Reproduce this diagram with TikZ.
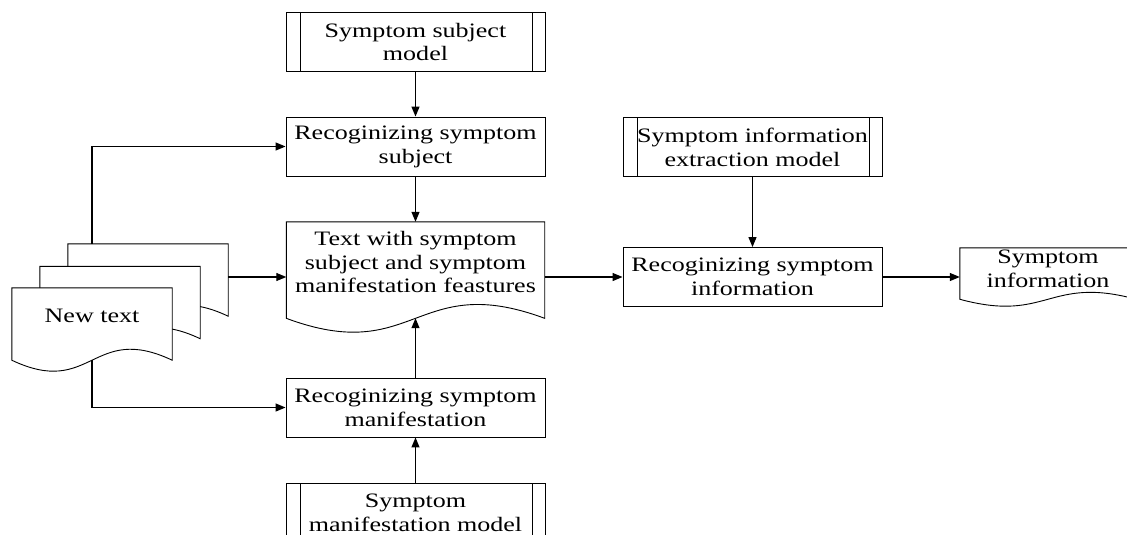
\documentclass[tikz,border=0pt]{standalone}
\usepackage{fontspec}
\setmainfont[FakeStretch=1.27]{Liberation Serif}
\usetikzlibrary{arrows.meta,backgrounds}

\tikzset{
    stepbox/.style={draw, align=center, minimum width=259, minimum height=59, inner sep=0pt, line width=0.9pt},
    modelbox/.style={stepbox, path picture={
        \draw[line width=0.9pt] ([xshift=14pt]path picture bounding box.north west) -- ([xshift=14pt]path picture bounding box.south west);
        \draw[line width=0.9pt] ([xshift=-13pt]path picture bounding box.north east) -- ([xshift=-13pt]path picture bounding box.south east);}},
    docbox/.style={align=center, inner sep=0pt},
    flow/.style={draw, line width=1.2pt, -{Triangle[length=10pt,width=8pt]}}
}
% outline of a document shape round a node, #2 = height of its wave
\newcommand{\docline}[2]{
    \draw[fill=white, line width=0.9pt] (#1.north west) -- (#1.north east) -- ([yshift=0.289*#2]#1.south east)
        .. controls ([yshift=1.289*#2]#1.south) and ([yshift=-0.711*#2]#1.south) .. ([yshift=0.289*#2]#1.south west) -- cycle;
}

\begin{document}
\begin{tikzpicture}[x=1pt, y=-1pt, font=\fontsize{20.5}{23.8}\selectfont]
        \useasboundingbox (0,0) rectangle (1127,535);

        \node[modelbox] (subjmodel) at (415.5,42) {Symptom subject\\model};
        \node[stepbox] (recsubj) at (415.5,146.5) {Recoginizing symptom\\subject};
        \node[docbox, minimum width=258, minimum height=110, text depth=30pt] (textdoc) at (415.5,277) {Text with symptom\\subject and symptom\\manifestation feastures};
        \node[stepbox] (recman) at (415.5,407.5) {Recoginizing symptom\\manifestation};
        \node[modelbox] (manmodel) at (415.5,512.5) {Symptom\\manifestation model};

        \node[modelbox] (extmodel) at (752.5,147) {Symptom information\\extraction model};
        \node[stepbox] (recinfo) at (752.5,277) {Recoginizing symptom\\information};
        \node[docbox, minimum width=176, minimum height=58, text depth=16pt] (syminfo) at (1048,277) {Symptom\\information};

        % new text, three sheets
        \node[docbox, minimum width=160, minimum height=83] (newtextc) at (148,285.5) {};
        \node[docbox, minimum width=160, minimum height=83] (newtextb) at (120,308) {};
        \node[docbox, minimum width=160, minimum height=83, text depth=27pt] (newtext) at (92,329.5) {New text};

        \begin{scope}[on background layer]
            \docline{newtextc}{38}
            \docline{newtextb}{38}
            \docline{newtext}{38}
            \docline{textdoc}{48}
            \docline{syminfo}{24}
        \end{scope}

        \path[flow] (subjmodel) -- (recsubj);
        \path[flow] (recsubj) -- (textdoc);
        \path[flow] (manmodel) -- (recman);
        \path[flow] (recman) -- ([yshift=14pt]textdoc.south);
        \path[flow] (textdoc) -- (recinfo);
        \path[flow] (extmodel) -- (recinfo);
        \path[flow] (recinfo) -- (syminfo);
        \path[flow] (newtext.center |- newtextc.north) |- (recsubj);
        \path[flow] (newtextc.east |- textdoc.west) -- (textdoc.west);
        \path[flow] ([yshift=11pt]newtext.south) |- (recman);
        %\path[flow] (newtextb) -- (recman);
\end{tikzpicture}
\end{document}
